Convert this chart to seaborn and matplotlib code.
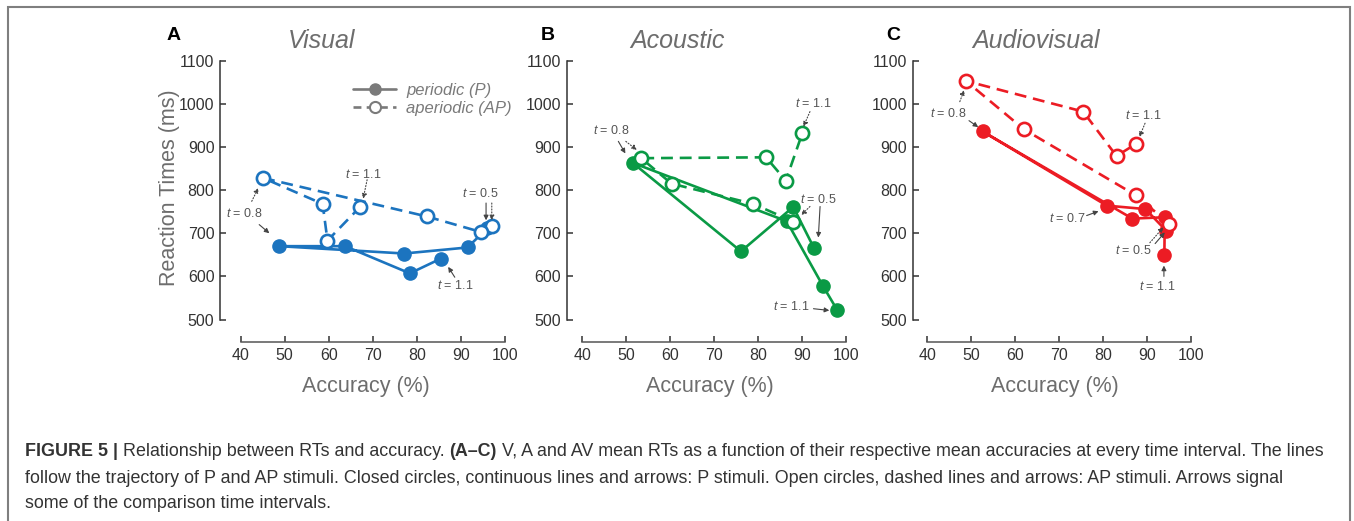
import matplotlib
matplotlib.use("Agg")
import matplotlib.pyplot as plt
import seaborn as sns
import pandas as pd
from matplotlib.lines import Line2D
from matplotlib.patches import Rectangle

# data: mean accuracy (%) and RT (ms), time intervals t = 0.5 ... 1.1
t_steps = [0.5, 0.6, 0.7, 0.8, 0.9, 1.0, 1.1]

vis_p_acc = [96.0, 91.5, 77.1, 48.8, 63.7, 78.4, 85.4]
vis_p_rt = [712, 667, 653, 670, 670, 607, 641]
vis_ap_acc = [97.0, 94.5, 82.2, 45.1, 58.6, 59.7, 67.1]
vis_ap_rt = [716, 703, 739, 828, 768, 683, 761]

aco_p_acc = [92.7, 88.0, 76.1, 51.5, 86.5, 94.8, 98.0]
aco_p_rt = [666, 761, 658, 863, 728, 577, 522]
aco_ap_acc = [88.0, 78.9, 60.3, 53.4, 81.8, 86.3, 90.1]
aco_ap_rt = [727, 768, 815, 874, 876, 822, 933]

av_p_acc = [94.4, 89.7, 80.9, 52.6, 86.7, 94.1, 94.0]
av_p_rt = [706, 756, 764, 936, 734, 737, 650]
av_ap_acc = [95.1, 87.5, 62.0, 48.8, 75.5, 83.1, 87.5]
av_ap_rt = [722, 788, 941, 1053, 982, 879, 907]

panel_titles = ["Visual", "Acoustic", "Audiovisual"]
panel_letters = ["A", "B", "C"]
colors = ["#1c74bf", "#0a9a45", "#ec1c24"]

# annotations: (label, text pos, [(arrow from, arrow to, dotted)])
notes = [
    [("0.8", (40.8, 745), [((42.5, 774), (44.0, 805), True), ((44.2, 720), (46.5, 700), False)]),
     ("1.1", (67.8, 836), [((68.7, 824), (67.8, 780), True)]),
     ("0.5", (94.3, 792), [((95.7, 770), (95.7, 730), False), ((97.0, 770), (97.0, 730), True)]),
     ("1.1", (88.6, 578), [((88.6, 598), (87.1, 622), False)])],
    [("0.8", (46.7, 938), [((48.2, 913), (49.8, 885), False), ((49.9, 913), (52.4, 893), True)]),
     ("1.1", (92.6, 1001), [((91.8, 982), (90.3, 947), True)]),
     ("0.5", (93.7, 778), [((91.8, 762), (89.8, 742), True), ((94.1, 762), (93.7, 690), False)]),
     ("1.1", (87.6, 531), [((92.6, 525), (96.2, 521), False)])],
    [("0.8", (44.8, 978), [((47.4, 1005), (48.4, 1032), True), ((49.5, 961), (51.6, 946), False)]),
     ("1.1", (89.2, 974), [((89.6, 955), (88.3, 923), True)]),
     ("0.7", (71.8, 733), [((76.3, 741), (79.0, 751), False)]),
     ("0.5", (86.9, 660), [((90.7, 678), (93.8, 714), True), ((91.9, 676), (94.1, 702), False)]),
     ("1.1", (92.4, 577), [((93.9, 600), (93.9, 625), False)])],
]

series = [
    (vis_p_acc, vis_p_rt, vis_ap_acc, vis_ap_rt),
    (aco_p_acc, aco_p_rt, aco_ap_acc, aco_ap_rt),
    (av_p_acc, av_p_rt, av_ap_acc, av_ap_rt),
]

sns.set_theme(style="ticks")
plt.rcParams["font.family"] = ["Liberation Sans", "DejaVu Sans"]
plt.rcParams["mathtext.fontset"] = "custom"
plt.rcParams["mathtext.it"] = "Liberation Sans:italic"
plt.rcParams["mathtext.rm"] = "Liberation Sans"

W, H = 1354, 521
fig = plt.figure(figsize=(W / 100, H / 100), dpi=100)

# pixel layout of each panel: y-spine x, x=40 position, x=100 position
layout = [(220, 240.7, 505), (566.7, 582.3, 846), (912.7, 927.3, 1190.7)]
title_x = [322, 677, 1036]
letter_x = [174, 548, 893]
y_top_px, y_bot_px, xspine_px = 60.7, 319.5, 342
ppy = (y_bot_px - y_top_px) / 600
ylim = (500 - (xspine_px - y_bot_px) / ppy, 1110)
top_px = y_top_px - 10 * ppy

gray = "#6d6d6d"
for i, (spine_x, x40, x100) in enumerate(layout):
    ppx = (x100 - x40) / 60
    left = 40 - (x40 - spine_x) / ppx
    right_px = x100 + 1.5 * ppx
    ax = fig.add_axes([spine_x / W, (H - xspine_px) / H,
                       (right_px - spine_x) / W, (xspine_px - top_px) / H])
    c = colors[i]
    p_acc, p_rt, ap_acc, ap_rt = series[i]
    dp = pd.DataFrame({"acc": p_acc, "rt": p_rt, "t": t_steps})
    dap = pd.DataFrame({"acc": ap_acc, "rt": ap_rt, "t": t_steps})
    sns.lineplot(data=dp, x="acc", y="rt", sort=False, estimator=None, ax=ax,
                 color=c, lw=1.9, marker="o", ms=9.5, mfc=c, mec=c, mew=1)
    sns.lineplot(data=dap, x="acc", y="rt", sort=False, estimator=None, ax=ax,
                 color=c, lw=1.9, linestyle=(0, (4.5, 2.6)), marker="o", ms=9.5,
                 mfc="white", mec=c, mew=1.9)
    ax.set_xlim(left, 101.5)
    ax.set_ylim(*ylim)
    ax.set_xticks(range(40, 101, 10))
    ax.set_yticks(range(500, 1101, 100))
    sns.despine(ax=ax)
    ax.spines["left"].set_bounds(500, 1100)
    ax.spines["bottom"].set_bounds(40, 100)
    ax.spines["left"].set_color("#333333")
    ax.spines["bottom"].set_color("#555555")
    ax.spines["left"].set_linewidth(1.1)
    ax.spines["bottom"].set_linewidth(1.1)
    ax.tick_params(direction="in", length=4, width=1.1, colors="#333333",
                   labelsize=11.5, pad=4)
    ax.set_xlabel("Accuracy (%)", fontsize=15.5, color=gray, labelpad=10)
    ax.set_ylabel("")
    for lab, txy, arrows in notes[i]:
        ax.text(txy[0], txy[1], "$t$ = " + lab, fontsize=9, color="#555555",
                ha="center", va="center")
        for a0, a1, dotted in arrows:
            ax.annotate("", xy=a1, xytext=a0,
                        arrowprops=dict(arrowstyle="-|>", color="#444444", lw=0.8,
                                        ls=":" if dotted else "-", mutation_scale=7,
                                        shrinkA=0, shrinkB=0))
    fig.text(title_x[i] / W, 1 - 41 / H, panel_titles[i], fontsize=18,
             style="italic", color=gray, ha="center", va="center")
    fig.text(letter_x[i] / W, 1 - 35 / H, panel_letters[i], fontsize=14,
             weight="bold", color="black", ha="center", va="center")
    if i == 0:
        fig.text(169 / W, 1 - 188 / H, "Reaction Times (ms)", fontsize=15.5,
                 color=gray, rotation=90, ha="center", va="center")
        lg_col = "#7a7a7a"
        handles = [Line2D([], [], color=lg_col, lw=1.9, marker="o", ms=8, mfc=lg_col),
                   Line2D([], [], color=lg_col, lw=1.9, ls=(0, (3, 2)), marker="o",
                          ms=8, mfc="white", mew=1.5)]
        leg = ax.legend(handles, ["periodic (P)", "aperiodic (AP)"], frameon=False,
                        loc="upper left", bbox_to_anchor=(353 / W, 1 - 83 / H),
                        bbox_transform=fig.transFigure, borderpad=0, borderaxespad=0,
                        handlelength=2.6, handletextpad=0.6, labelspacing=0.2,
                        prop=dict(size=12, style="italic"))
        for t in leg.get_texts():
            t.set_color(lg_col)

# caption box frame
fig.add_artist(Rectangle((8 / W, -0.1), (1350 - 8) / W, 1 - 7 / H + 0.1,
                         transform=fig.transFigure, fill=False, ec="#7f7f7f", lw=1.5))

caption = [
    [("FIGURE 5 | ", True), ("Relationship between RTs and accuracy. ", False), ("(A–C)", True),
     (" V, A and AV mean RTs as a function of their respective mean accuracies at every time interval. The lines", False)],
    [("follow the trajectory of P and AP stimuli. Closed circles, continuous lines and arrows: P stimuli. "
      "Open circles, dashed lines and arrows: AP stimuli. Arrows signal", False)],
    [("some of the comparison time intervals.", False)],
]
cap_base = [456, 483, 508]
renderer = fig.canvas.get_renderer()
for line, y in zip(caption, cap_base):
    x = 25
    for txt, bold in line:
        t = fig.text(x / W, 1 - y / H, txt, fontsize=12.9, color="#333333",
                     weight="bold" if bold else "normal", ha="left", va="baseline")
        x += t.get_window_extent(renderer=renderer).width

fig.savefig("out.png", dpi=100)
